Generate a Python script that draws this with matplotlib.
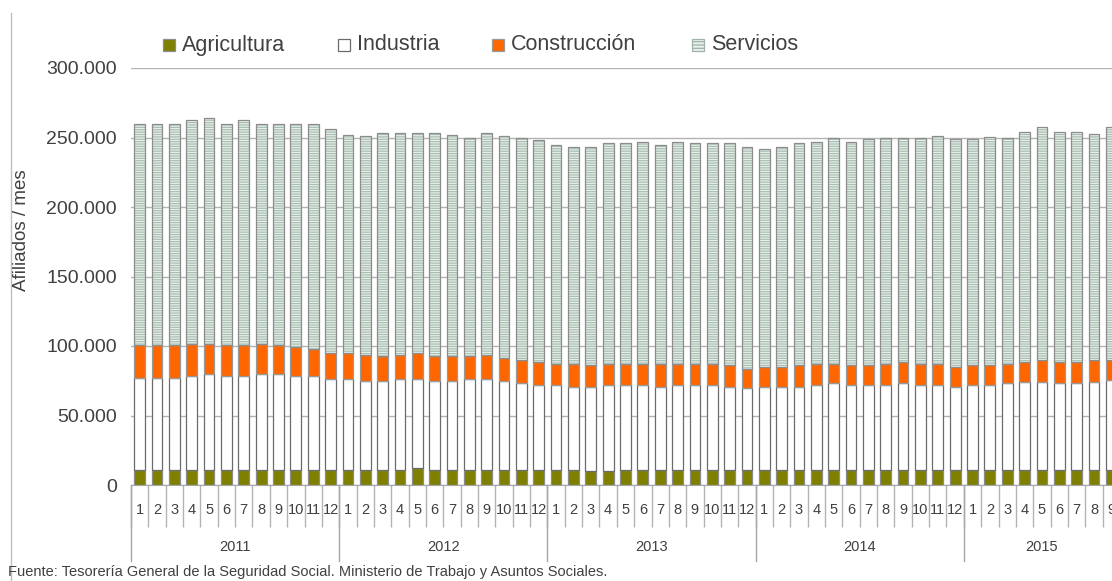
import numpy as np
import matplotlib
matplotlib.use("Agg")
import matplotlib.pyplot as plt
from matplotlib.patches import Rectangle
from matplotlib.lines import Line2D
import matplotlib.transforms as mtransforms

plt.rcParams['font.family'] = ['Liberation Sans', 'DejaVu Sans']
plt.rcParams['hatch.linewidth'] = 0.9

# meses 2011-01 .. 2015-09
years = [2011, 2012, 2013, 2014, 2015]
months_per_year = [12, 12, 12, 12, 9]

agricultura = [
    11000, 11000, 11000, 11000, 11000, 11000, 11000, 11000, 11000, 11000, 11000, 11000,
    11000, 11000, 11000, 11000, 12500, 11000, 11000, 11000, 11000, 11000, 11000, 11000,
    11000, 11000, 10000, 10000, 11000, 10500, 10500, 11000, 11000, 10500, 10500, 10500,
    10500, 10500, 10500, 11000, 11000, 10500, 10500, 11000, 11000, 10500, 10500, 10500,
    10500, 10500, 10500, 11000, 11000, 10500, 10500, 11000, 11000,
]
industria = [
    66300, 66300, 66300, 67500, 68900, 67500, 67500, 68900, 68900, 67500, 67500, 65100,
    65100, 63700, 63700, 65100, 63600, 63700, 63700, 65100, 65100, 63700, 62200, 61000,
    61000, 59800, 60800, 62000, 61000, 61500, 60300, 61000, 61000, 61500, 60300, 59000,
    60300, 60300, 60300, 61000, 62200, 61500, 61500, 61000, 62200, 61500, 61500, 60300,
    61500, 61500, 62700, 63400, 63400, 62700, 62700, 63400, 64500,
]
construccion = [
    23700, 23700, 23700, 23200, 21800, 22500, 22500, 21800, 21100, 21000, 19600, 18900,
    18900, 18800, 17900, 17400, 18900, 17900, 17900, 16500, 17400, 16500, 16500, 16500,
    15100, 16300, 15800, 15100, 15100, 15100, 16300, 15100, 15100, 15100, 15800, 14200,
    14400, 14400, 15800, 15100, 13900, 14600, 14600, 15100, 15300, 15100, 15100, 14400,
    14600, 14600, 13900, 14100, 15600, 15300, 15300, 15600, 14500,
]
servicios = [
    159000, 159000, 159000, 161000, 162400, 159000, 161700, 158300, 159000, 160500, 161900, 161200,
    157100, 157700, 160800, 159900, 158400, 160800, 159500, 157400, 159900, 160000, 160000, 159600,
    157200, 155900, 156400, 158600, 158800, 159800, 157400, 159800, 158800, 158800, 159300, 159400,
    156700, 158100, 159300, 159800, 162900, 160300, 162000, 162900, 161500, 162900, 164300, 163400,
    162000, 163400, 162900, 165100, 167900, 165100, 165100, 162400, 167900,
]
sectores = ['Agricultura', 'Industria', 'Construcción', 'Servicios']

month_labels = []
year_of = []
for y, nm in zip(years, months_per_year):
    for m in range(1, nm + 1):
        month_labels.append(str(m))
        year_of.append(y)

n = len(month_labels)
x = np.arange(n)
agr = np.array(agricultura)
ind = np.array(industria)
con = np.array(construccion)
ser = np.array(servicios)

W, H = 1112, 581
fig = plt.figure(figsize=(W / 100, H / 100), dpi=100)
ax = fig.add_axes([131 / W, (H - 485) / H, (1120 - 131) / W, 417 / H])

bw = 0.62
edge = '#8c8c8c'
ax.bar(x, agr, bw, color='#808000', edgecolor=edge, linewidth=0.9, zorder=2)
ax.bar(x, ind, bw, bottom=agr, color='white', edgecolor='#6b6b6b', linewidth=0.9, zorder=2)
ax.bar(x, con, bw, bottom=agr + ind, color='#ff6600', edgecolor='#999999', linewidth=0.9, zorder=2)
ax.bar(x, ser, bw, bottom=agr + ind + con, color='#e9f0ec', edgecolor='#a9bfb2',
       hatch='-------', linewidth=0, zorder=2)
ax.bar(x, ser, bw, bottom=agr + ind + con, color='none', edgecolor=edge, linewidth=0.9, zorder=3)

ax.set_xlim(-0.5, n - 0.5)
ax.set_ylim(0, 300000)
ax.set_yticks(np.arange(0, 300001, 50000))
ax.set_yticklabels(['{:,.0f}'.format(v).replace(',', '.') for v in np.arange(0, 300001, 50000)])
ax.yaxis.grid(True, color='#b3b3b3', linewidth=1)
ax.set_axisbelow(True)
for s in ['top', 'right', 'left']:
    ax.spines[s].set_visible(False)
ax.spines['bottom'].set_color('#a6a6a6')
ax.tick_params(axis='y', length=0, labelsize=14, labelcolor='#404040', pad=10)

ax.set_xticks(x)
ax.set_xticklabels(month_labels)
ax.tick_params(axis='x', which='major', length=0, labelsize=10.5, labelcolor='#404040', pad=13)
ax.set_xticks(np.arange(n) - 0.5, minor=True)
ax.tick_params(axis='x', which='minor', length=30, width=1, color='#b3b3b3', direction='out')

# separadores y etiquetas de año
trans = mtransforms.blended_transform_factory(ax.transData, ax.transAxes)
axh = 417.0
for y in years:
    idx = [i for i in range(n) if year_of[i] == y]
    ax.plot([idx[0] - 0.5, idx[0] - 0.5], [0, -76 / axh], transform=trans,
            color='#a6a6a6', linewidth=1, clip_on=False)
    ax.text(np.mean(idx), -62 / axh, str(y), transform=trans, ha='center', va='center',
            fontsize=10.5, color='#404040')

# leyenda
leg_style = [
    dict(facecolor='#808000', edgecolor=edge),
    dict(facecolor='white', edgecolor='#6b6b6b'),
    dict(facecolor='#ff6600', edgecolor='#999999'),
    dict(facecolor='#e9f0ec', edgecolor='#9fb3a8', hatch='-----'),
]
leg_x = [163, 338, 492, 692]
for lab, st, lx in zip(sectores, leg_style, leg_x):
    fig.add_artist(Rectangle((lx / W, 1 - 51 / H), 12 / W, 12 / H, linewidth=0.9,
                             transform=fig.transFigure, **st))
    fig.text((lx + 19) / W, 1 - 45 / H, lab, ha='left', va='center', fontsize=15.5,
             color='#404040')

fig.text(22 / W, 1 - 230 / H, 'Afiliados / mes', rotation=90, ha='center', va='center',
         fontsize=13.5, color='#404040')
fig.text(8 / W, 1 - 572 / H,
         'Fuente: Tesorería General de la Seguridad Social. Ministerio de Trabajo y Asuntos Sociales.',
         ha='left', va='center', fontsize=10.5, color='#404040')
fig.add_artist(Line2D([11 / W, 11 / W], [0, 1 - 13 / H], color='#bfbfbf', linewidth=1))

fig.savefig('out.png', dpi=100)
